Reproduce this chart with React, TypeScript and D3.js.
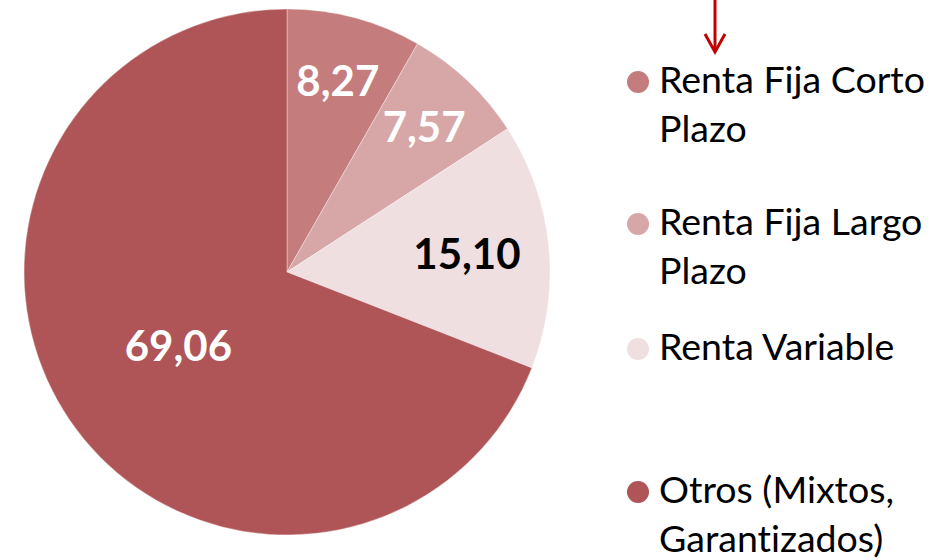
import { pie, arc, PieArcDatum } from "d3";

const categories = [
  "Renta Fija Corto Plazo",
  "Renta Fija Largo Plazo",
  "Renta Variable",
  "Otros (Mixtos, Garantizados)",
];
const values = [8.27, 7.57, 15.1, 69.06];
const valueLabels = ["8,27", "7,57", "15,10", "69,06"];
const legendLines = [
  ["Renta Fija Corto", "Plazo"],
  ["Renta Fija Largo", "Plazo"],
  ["Renta Variable"],
  ["Otros (Mixtos,", "Garantizados)"],
];

const colors = ["#c47c7d", "#d7a7a8", "#efdfe0", "#b05557"];
const labelColors = ["#fff", "#fff", "#000", "#fff"];

const width = 949;
const height = 560;
const cx = 287;
const cy = 272;
const radius = 263;
const font = 'Lato, "Open Sans", sans-serif';

// legend baselines of each entry's first line
const legendY = [93, 235, 360, 503];
const lineGap = 49;

type Slice = { name: string; value: number; i: number };

export default function App() {
  const slices: Slice[] = categories.map((name, i) => ({
    name,
    value: values[i],
    i,
  }));
  const arcs = pie<Slice>()
    .sort(null)
    .value((d) => d.value)(slices);

  const arcPath = arc<PieArcDatum<Slice>>().innerRadius(0).outerRadius(radius);

  // best-fit style: narrow slices push labels outward, the big one sits in the middle
  const labelPos = (d: PieArcDatum<Slice>) => {
    const span = d.endAngle - d.startAngle;
    const r = span > Math.PI ? radius * 0.5 : radius * (0.83 - 0.15 * span);
    const a = (d.startAngle + d.endAngle) / 2;
    return [Math.sin(a) * r, -Math.cos(a) * r];
  };

  return (
    <svg
      width={width}
      height={height}
      style={{
        position: "absolute",
        left: 0,
        top: 0,
        background: "#fff",
        fontVariantLigatures: "none",
      }}
      fontFamily={font}
    >
      <g transform={`translate(${cx},${cy})`}>
        {arcs.map((d) => (
          <path
            key={d.data.name}
            d={arcPath(d) ?? ""}
            fill={colors[d.data.i]}
            stroke="#fff"
            strokeWidth={0.6}
            strokeOpacity={0.6}
          />
        ))}
        {arcs.map((d) => {
          const [x, y] = labelPos(d);
          return (
            <text
              key={d.data.name}
              x={x}
              y={y}
              dy="0.36em"
              textAnchor="middle"
              fontSize={42}
              fontWeight={700}
              fill={labelColors[d.data.i]}
            >
              {valueLabels[d.data.i]}
            </text>
          );
        })}
      </g>

      <g stroke="#c00000" strokeWidth={3} fill="none">
        <line x1={715} x2={715} y1={0} y2={52} />
        <polyline points="705,34 715,52 725,34" strokeLinejoin="miter" />
      </g>

      {legendLines.map((lines, i) => (
        <g key={categories[i]}>
          <circle cx={638} cy={legendY[i] - 11} r={11} fill={colors[i]} />
          {lines.map((t, j) => (
            <text
              key={t}
              x={659}
              y={legendY[i] + j * lineGap}
              fontSize={37.5}
              fill="#000"
            >
              {t}
            </text>
          ))}
        </g>
      ))}
    </svg>
  );
}
